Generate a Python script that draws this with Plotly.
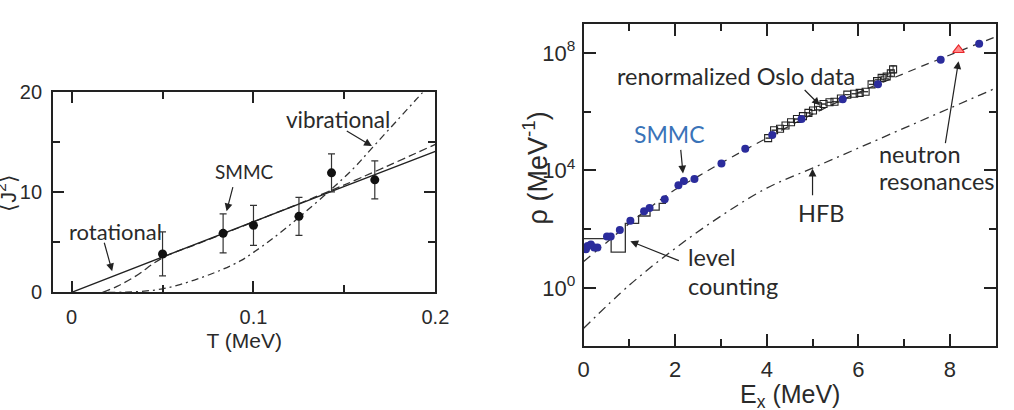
import numpy as np
import plotly.graph_objects as go

# ---------------- Left panel data: <J^2> vs T ----------------
smmc_T = [0.05, 0.0833, 0.1, 0.125, 0.1429, 0.1667]
smmc_J2 = [3.84, 5.9, 6.7, 7.6, 11.95, 11.25]
smmc_J2_err = [2.2, 1.95, 2.0, 1.9, 1.9, 1.9]

rot_T = [0.0, 0.05, 0.1, 0.15, 0.2]
rot_J2 = [0.0, 3.55, 7.05, 10.6, 14.1]

fit_T = [0.017, 0.025, 0.035, 0.05, 0.07, 0.1, 0.15, 0.2]
fit_J2 = [0.0, 0.6, 1.6, 3.45, 4.9, 7.05, 10.75, 14.8]

vib_T = [0.02, 0.03, 0.04, 0.05, 0.06, 0.0717, 0.083, 0.0933, 0.1, 0.11,
         0.125, 0.1427, 0.155, 0.165, 0.18, 0.19, 0.193]
vib_J2 = [0.0, 0.02, 0.12, 0.35, 0.8, 1.5, 2.3, 3.2, 4.0, 5.3,
          7.5, 10.3, 12.4, 14.4, 17.4, 19.4, 20.0]

# ---------------- Right panel data: rho vs Ex (log10 rho) ----------------
smmc_E = [0.05, 0.086, 0.158, 0.23, 0.30, 0.51, 0.59, 0.79, 1.02, 1.32, 1.44, 1.77,
          2.07, 2.19, 2.42, 3.01, 3.53, 4.12, 4.76, 5.66, 6.43, 7.8, 8.64]
smmc_log_rho = [1.32, 1.43, 1.48, 1.38, 1.38, 1.75, 1.75, 1.97, 2.29, 2.61, 2.72, 3.02,
                3.50, 3.64, 3.71, 4.24, 4.74, 5.21, 5.75, 6.42, 6.93, 7.77, 8.31]

fit_E = [0.0, 0.5, 1.0, 1.5, 2.0, 2.5, 3.0, 4.0, 5.0, 6.0, 7.0, 8.0, 9.0]
fit_log_rho = [0.9, 1.55, 2.2, 2.8, 3.35, 3.8, 4.25, 5.1, 5.92, 6.65, 7.3, 7.93, 8.55]

hfb_E = [0.0, 1.0, 2.0, 3.0, 4.0, 5.0, 6.0, 7.0, 8.0, 9.0]
hfb_log_rho = [-1.37, 0.1, 1.35, 2.45, 3.4, 4.08, 4.76, 5.44, 6.12, 6.8]

oslo_E = [4.03, 4.16, 4.29, 4.41, 4.53, 4.66, 4.79, 4.91, 5.01, 5.12, 5.24, 5.37,
          5.48, 5.62, 5.76, 5.91, 6.03, 6.16, 6.29, 6.41, 6.51, 6.62, 6.71, 6.76]
oslo_log_rho = [5.10, 5.37, 5.42, 5.53, 5.64, 5.75, 5.85, 5.96, 6.04, 6.18, 6.26, 6.32,
                6.34, 6.45, 6.58, 6.61, 6.64, 6.68, 6.93, 7.04, 7.15, 7.20, 7.31, 7.44]
oslo_log_err = [0, 0, 0, 0, 0, 0, 0, 0, 0, 0, 0, 0,
                0, 0, 0, 0, 0, 0, 0, 0.05, 0.06, 0.08, 0.1, 0.12]

level_E = [0.0, 0.6, 0.91, 1.2, 1.45, 1.65, 1.8]
level_log_rho = [1.68, 1.22, 2.2, 2.45, 2.65, 2.88, 2.88]

nres_E = [8.19]
nres_log_rho = [8.10]

x_ticks_left = [0, 0.1, 0.2]
x_ticklabels_left = ["0", "0.1", "0.2"]
y_ticks_left = [0, 10, 20]
x_ticks_right = [0, 2, 4, 6, 8]
y_ticks_right = [1e0, 1e4, 1e8]
y_ticklabels_right = ["10<sup>0</sup>", "10<sup>4</sup>", "10<sup>8</sup>"]

# ---------------- figure ----------------
W, H = 1014, 410
BLUE_DOT = "#2b2c9c"
BLUE_TXT = "#3a73b8"
TXT = "#2a2a2a"
ANN_FONT = "Lato"
TICK_FONT = "Liberation Sans"

fig = go.Figure()

L = dict(xaxis="x", yaxis="y")
R = dict(xaxis="x2", yaxis="y2")

fig.add_trace(go.Scatter(x=vib_T, y=vib_J2, mode="lines", line_shape="spline",
                         line=dict(color="#333", width=1.3, dash="7px,4px,2px,4px"), **L))
fig.add_trace(go.Scatter(x=fit_T, y=fit_J2, mode="lines", line_shape="spline",
                         line=dict(color="#333", width=1.3, dash="8px,4px"), **L))
fig.add_trace(go.Scatter(x=rot_T, y=rot_J2, mode="lines",
                         line=dict(color="#222", width=1.4), **L))
fig.add_trace(go.Scatter(x=smmc_T, y=smmc_J2, mode="markers",
                         marker=dict(color="#111", size=9),
                         error_y=dict(type="data", array=smmc_J2_err, color="#333",
                                      thickness=1.2, width=3.5), **L))

# right panel
rho = lambda a: list(10 ** np.array(a, dtype=float))
fig.add_trace(go.Scatter(x=hfb_E, y=rho(hfb_log_rho), mode="lines", line_shape="spline",
                         line=dict(color="#333", width=1.3, dash="9px,5px,2px,5px"), **R))
fig.add_trace(go.Scatter(x=fit_E, y=rho(fit_log_rho), mode="lines", line_shape="spline",
                         line=dict(color="#333", width=1.3, dash="8px,6px"), **R))
fig.add_trace(go.Scatter(x=level_E, y=rho(level_log_rho), mode="lines", line_shape="hv",
                         line=dict(color="#333", width=1.3), **R))
oslo_y = np.array(rho(oslo_log_rho))
oslo_err = np.array(oslo_log_err)
fig.add_trace(go.Scatter(x=oslo_E, y=list(oslo_y), mode="markers",
                         marker=dict(symbol="square-open", color="#222", size=7,
                                     line=dict(width=1.1)),
                         error_y=dict(type="data", symmetric=False,
                                      array=list(oslo_y * (10 ** oslo_err - 1)),
                                      arrayminus=list(oslo_y * (1 - 10 ** (-oslo_err))),
                                      color="#333", thickness=1, width=2.5), **R))
fig.add_trace(go.Scatter(x=smmc_E, y=rho(smmc_log_rho), mode="markers",
                         marker=dict(color=BLUE_DOT, size=8), **R))
fig.add_trace(go.Scatter(x=nres_E, y=rho(nres_log_rho), mode="markers",
                         marker=dict(symbol="triangle-up", color="#ff8a8a", size=10,
                                     line=dict(color="#e8262a", width=1.2)), **R))

axis_common = dict(showline=True, linecolor="#222", linewidth=2, mirror="allticks",
                   ticks="inside", tickcolor="#222", tickwidth=1.5, showgrid=False,
                   zeroline=False, tickfont=dict(family=TICK_FONT, size=20, color=TXT))

fig.update_layout(
    width=W, height=H, margin=dict(l=0, r=0, t=0, b=0),
    paper_bgcolor="white", plot_bgcolor="white", showlegend=False,
    xaxis=dict(domain=[48 / W, 438 / W], range=[-0.0102, 0.2], anchor="y",
               tickmode="array", tickvals=x_ticks_left, ticktext=x_ticklabels_left, ticklen=11,
               ticklabelstandoff=6,
               minor=dict(tickvals=[0.05, 0.15], ticklen=7, ticks="inside", tickcolor="#222",
                          tickwidth=1.5),
               title=dict(text="T (MeV)", font=dict(family=TICK_FONT, size=21, color=TXT),
                          standoff=6),
               **axis_common),
    yaxis=dict(domain=[1 - 297.3 / H, 1 - 86 / H], range=[0, 20], anchor="x",
               tickmode="array", tickvals=y_ticks_left, ticklen=11, ticklabelstandoff=5,
               minor=dict(tickvals=[5, 15], ticklen=7, ticks="inside", tickcolor="#222",
                          tickwidth=1.5),
               **axis_common),
    xaxis2=dict(domain=[589.3 / W, 1010 / W], range=[0, 9.01], anchor="y2",
                tickmode="array", tickvals=x_ticks_right, ticklen=12, ticklabelstandoff=3,
                minor=dict(tickvals=[1, 3, 5, 7, 9], ticklen=7, ticks="inside",
                           tickcolor="#222", tickwidth=1.5),
                **{**axis_common, "tickfont": dict(family=TICK_FONT, size=22, color=TXT)}),
    yaxis2=dict(domain=[1 - 354 / H, 1 - 14 / H], range=[-1.974, 8.976], type="log",
                anchor="x2", tickmode="array", tickvals=y_ticks_right,
                ticktext=y_ticklabels_right, ticklen=12, ticklabelstandoff=2,
                minor=dict(tickvals=[1e-2, 1e2, 1e6], ticklen=7, ticks="inside",
                           tickcolor="#222", tickwidth=1.5),
                **{**axis_common, "tickfont": dict(family=TICK_FONT, size=22, color=TXT)}),
)

ann = []
def ptext(text, px, py, size, color=TXT, xanchor="center", yanchor="middle",
          family=ANN_FONT, angle=0):
    ann.append(dict(text=text, x=px / W, y=1 - py / H, xref="paper", yref="paper",
                    showarrow=False, xanchor=xanchor, yanchor=yanchor, textangle=angle,
                    font=dict(family=family, size=size, color=color)))

def arrow(x, y, ax, ay, xr, yr):
    ann.append(dict(text="", x=x, y=y, xref=xr, yref=yr, ax=ax, ay=ay, showarrow=True,
                    arrowhead=2, arrowsize=1.3, arrowwidth=1.2, arrowcolor="#222"))

# left panel texts & arrows
ptext("rotational", 111.7, 233.3, 22)
ptext("SMMC", 243.3, 170, 19)
ptext("vibrational", 338.3, 115, 22.5)
arrow(0.0223, 2.11, -8.3, -30, "x", "y")
arrow(0.0852, 8.1, 6.7, -25.7, "x", "y")
arrow(0.1651, 14.63, -26.6, -16, "x", "y")
ptext("⟨J<sup>2</sup>⟩", 0, 192, 22, family=TICK_FONT, angle=-90)

# right panel texts & arrows
ptext("renormalized Oslo data", 745, 68.3, 23.5)
ptext("SMMC", 676.7, 130, 23, color=BLUE_TXT)
ptext("level", 693.3, 260, 23.5, xanchor="left")
ptext("counting", 693.3, 291, 23.5, xanchor="left")
ptext("HFB", 831.7, 213.3, 23.5)
ptext("neutron", 888.3, 151, 23.5, xanchor="left")
ptext("resonances", 888.3, 180, 23.5, xanchor="left")
arrow(5.16, 6.22, -16.7, -16.7, "x2", "y2")
arrow(2.17, 3.90, -2.4, -25, "x2", "y2")
arrow(1.02, 1.59, 50, 20, "x2", "y2")
arrow(5.0, 4.06, 0, 28, "x2", "y2")
arrow(8.19, 7.72, -13.4, 83.4, "x2", "y2")
ptext("ρ (MeV<sup>-1</sup>)", 540, 166, 27, family=TICK_FONT, angle=-90)
ptext("E<sub>x</sub> (MeV)", 800, 388, 25, family=TICK_FONT, yanchor="top")

fig.update_layout(annotations=ann)
fig.write_html(
    "out.html",
    post_script=("document.documentElement.style.margin='0';"
                 "document.body.style.margin='0';"
                 "document.body.style.overflow='hidden';"),
)
